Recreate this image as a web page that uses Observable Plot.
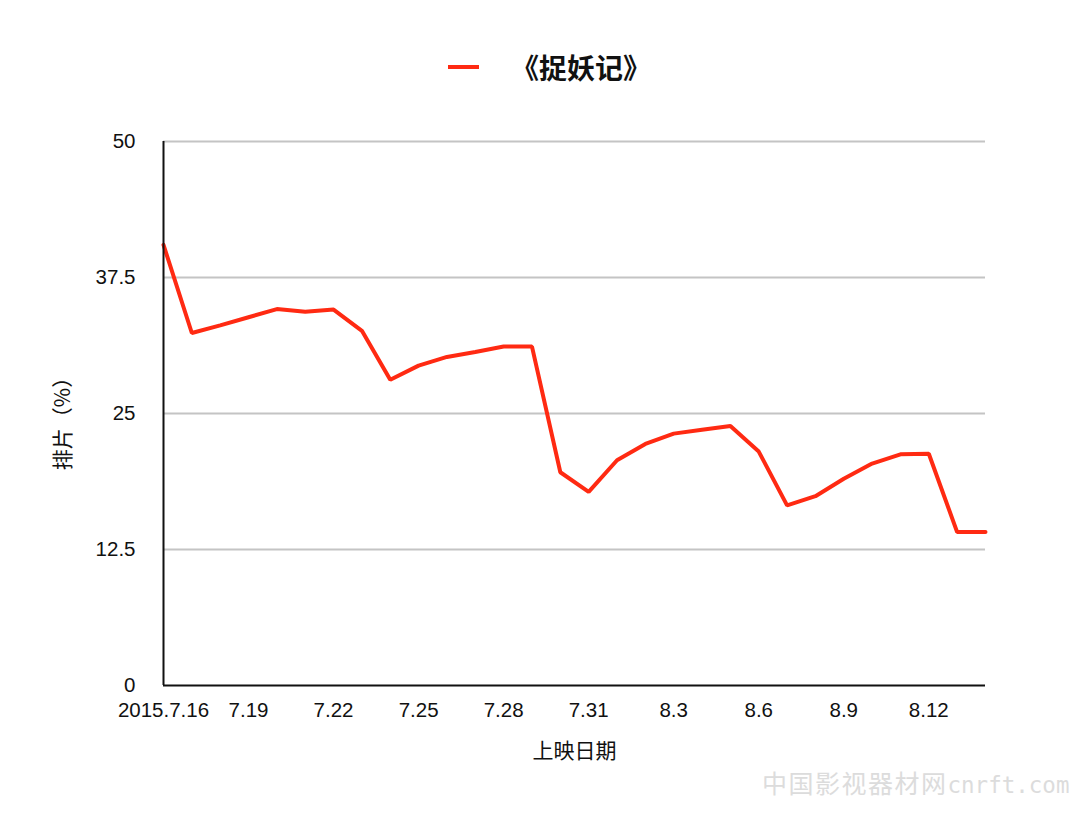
<!DOCTYPE html>
<html>
<head>
<meta charset="utf-8">
<script src="https://cdn.jsdelivr.net/npm/d3@7"></script>
<script src="https://cdn.jsdelivr.net/npm/@observablehq/plot@0.6"></script>
<style>
  html, body { margin: 0; padding: 0; background: #fff; }
  #wrap { position: relative; width: 1080px; height: 829px; font-family: "Liberation Sans", "Noto Sans CJK SC", sans-serif; }
  #legend { position: absolute; top: 46px; left: 448px; height: 42px; display: flex; align-items: center; font-family: "Noto Sans CJK SC", sans-serif; font-size: 28px; font-weight: 600; color: #111; }
  #legend .sw { width: 31px; height: 4px; background: #ff2a12; margin-right: 32px; }
  #mark { position: absolute; left: 762px; top: 764px; font-family: "Noto Sans CJK SC", sans-serif; font-size: 25px; color: #dcdcdc; letter-spacing: 1.5px; white-space: nowrap; }
  #mark span { font-family: "DejaVu Sans Mono", monospace; font-size: 22.5px; letter-spacing: 0; }
</style>
</head>
<body>
<div id="wrap">
  <div id="legend"><div class="sw"></div><span>《捉妖记》</span></div>
  <div id="mark">中国影视器材网<span>cnrft.com</span></div>
</div>
<script>
const dates = ["2015-07-16","2015-07-17","2015-07-18","2015-07-19","2015-07-20","2015-07-21","2015-07-22","2015-07-23","2015-07-24","2015-07-25","2015-07-26","2015-07-27","2015-07-28","2015-07-29","2015-07-30","2015-07-31","2015-08-01","2015-08-02","2015-08-03","2015-08-04","2015-08-05","2015-08-06","2015-08-07","2015-08-08","2015-08-09","2015-08-10","2015-08-11","2015-08-12","2015-08-13","2015-08-14"];
const share = [40.5,32.4,33.1,33.85,34.6,34.35,34.55,32.6,28.1,29.4,30.2,30.65,31.15,31.15,19.6,17.8,20.7,22.2,23.15,23.5,23.85,21.5,16.55,17.4,19.0,20.4,21.25,21.3,14.1,14.1];
const yTicks = [0, 12.5, 25, 37.5, 50];
const xTickDates = ["2015-07-16","2015-07-19","2015-07-22","2015-07-25","2015-07-28","2015-07-31","2015-08-03","2015-08-06","2015-08-09","2015-08-12"];
const seriesName = "《捉妖记》";
const xTitle = "上映日期";
const yTitle = "排片（%）";

const parse = d3.utcParse("%Y-%m-%d");
const data = dates.map((d, i) => ({date: parse(d), value: share[i]}));
const xt = xTickDates.map(parse);
const fmt = (d, i) => i === 0 ? `2015.${d.getUTCMonth()+1}.${d.getUTCDate()}` : `${d.getUTCMonth()+1}.${d.getUTCDate()}`;

const chart = Plot.plot({
  width: 1080,
  height: 829,
  marginLeft: 163,
  marginRight: 95,
  marginTop: 141,
  marginBottom: 144,
  style: {fontFamily: "Liberation Sans, sans-serif", fontSize: "20px", color: "#111", background: "transparent"},
  x: {type: "utc", domain: [parse(dates[0]), parse(dates[dates.length-1])]},
  y: {domain: [0, 50]},
  marks: [
    Plot.ruleY(yTicks.filter(v => v > 0), {stroke: "#c4c4c4", strokeWidth: 2, strokeOpacity: 1}),
    Plot.line(data, {x: "date", y: "value", stroke: "#ff2a12", strokeWidth: 4, strokeLinejoin: "miter"}),
    Plot.ruleY([0], {stroke: "#111", strokeWidth: 2}),
    Plot.ruleX([parse(dates[0])], {y1: 0, y2: 50, stroke: "#111", strokeWidth: 2}),
    Plot.axisY(yTicks, {tickSize: 0, tickPadding: 28, label: null, fontSize: 20.5, tickFormat: d => String(d)}),
    Plot.axisX(xt, {tickSize: 0, tickPadding: 17, tickFormat: fmt, label: null, fontSize: 20.5}),
    Plot.text([xTitle], {frameAnchor: "bottom", dy: 72, fontSize: 21, fontFamily: "Noto Sans CJK SC, sans-serif", fill: "#111"}),
    Plot.text([yTitle], {frameAnchor: "left", dx: -100, dy: 5, rotate: -90, textAnchor: "middle", fontSize: 21, fontFamily: "Noto Sans CJK SC, sans-serif", fill: "#111"})
  ]
});
document.getElementById("wrap").prepend(chart);
chart.style.position = "absolute";
chart.style.left = "0";
chart.style.top = "0";
</script>
</body>
</html>
